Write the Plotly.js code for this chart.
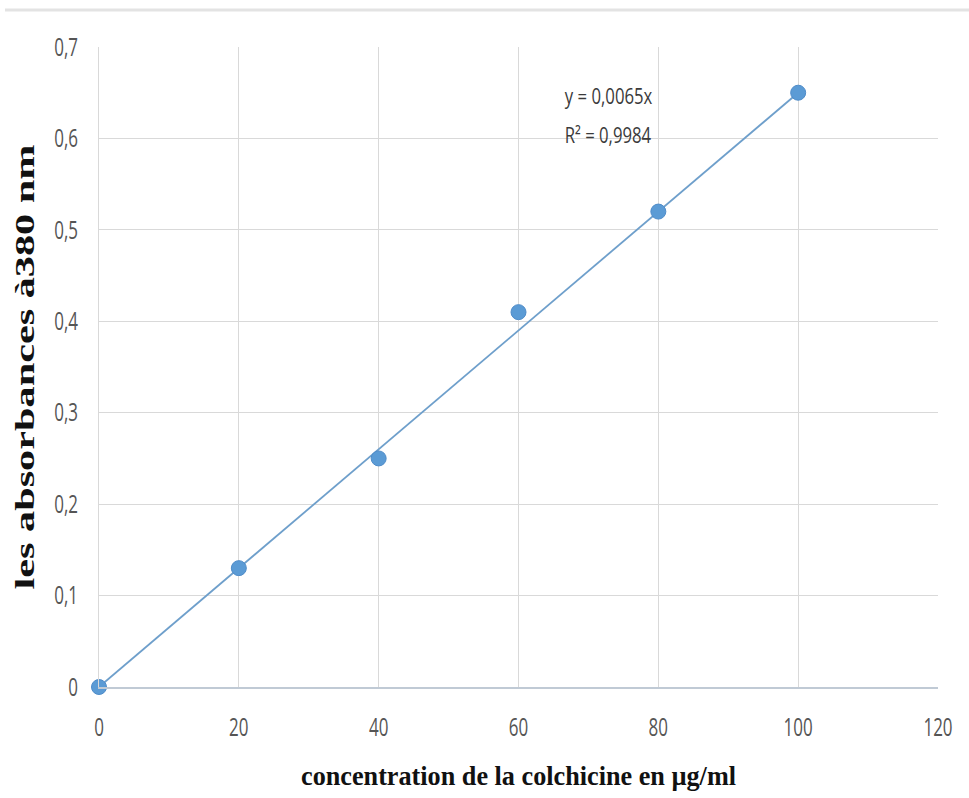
<!DOCTYPE html>
<html>
<head>
<meta charset="utf-8">
<script src="https://cdn.plot.ly/plotly-3.0.1.min.js"></script>
<style>html,body{margin:0;padding:0;background:#fff;}#chart{width:969px;height:798px;}</style>
</head>
<body>
<div id="chart"></div>
<script>
const concentration = [0, 20, 40, 60, 80, 100];
const absorbance = [0, 0.13, 0.25, 0.41, 0.52, 0.65];
const trendX = [0, 100];
const trendY = [0, 0.65];
const equationText = "y = 0,0065x";
const r2Text = "R² = 0,9984";
const xTitle = "concentration de la colchicine en µg/ml";
const yTitle = "les absorbances à380 nm";

const sansFamily = "'Open Sans', 'DejaVu Sans', sans-serif";
const tickFont = {family: sansFamily, size: 25, color: "#555555"};
const titleFont = {family: "'Liberation Serif', 'Times New Roman', serif", size: 28, color: "#111111"};

const traces = [
  {x: trendX, y: trendY, mode: "lines", type: "scatter",
   line: {color: "#6e9fcb", width: 1.8}, hoverinfo: "skip", cliponaxis: false},
  {x: concentration, y: absorbance, mode: "markers", type: "scatter", cliponaxis: false,
   marker: {color: "#5b9bd5", size: 15, line: {color: "#4f8cc9", width: 1}}}
];

const layout = {
  width: 969, height: 798,
  margin: {l: 99, r: 31, t: 47, b: 111},
  paper_bgcolor: "#ffffff", plot_bgcolor: "#ffffff",
  separators: ", ",
  showlegend: false,
  xaxis: {
    range: [0, 120], dtick: 20, tick0: 0,
    showgrid: true, gridcolor: "#d9d9d9", gridwidth: 1,
    zeroline: false, showline: true, linecolor: "#c0cad5", linewidth: 2,
    ticks: "", tickfont: tickFont, ticklabelstandoff: 17,
    title: {text: "<b>" + xTitle + "</b>", font: titleFont, standoff: 23}
  },
  yaxis: {
    range: [0, 0.7], dtick: 0.1, tick0: 0,
    showgrid: true, gridcolor: "#d9d9d9", gridwidth: 1,
    zeroline: false, showline: true, linecolor: "#d9d9d9", linewidth: 1,
    ticks: "", tickfont: tickFont, ticklabelstandoff: 15,
    title: {text: "<b>" + yTitle + "</b>", font: titleFont, standoff: 0}
  },
  annotations: [
    {x: 64.4, y: 0.647, xref: "x", yref: "y", xanchor: "left", yanchor: "middle",
     text: equationText, showarrow: false,
     font: {family: sansFamily, size: 22, color: "#3a3a3a"}},
    {x: 64.4, y: 0.605, xref: "x", yref: "y", xanchor: "left", yanchor: "middle",
     text: r2Text, showarrow: false,
     font: {family: sansFamily, size: 22, color: "#3a3a3a"}}
  ],
  shapes: [
    {type: "line", xref: "paper", yref: "paper",
     x0: -94/839, x1: 1 + 31/839, y0: 1 + 37/640, y1: 1 + 37/640,
     line: {color: "#e3e3e3", width: 3}}
  ]
};

function squeeze(selector, factor, fixedLength) {
  document.querySelectorAll(selector).forEach(function (t) {
    const len = fixedLength || t.getComputedTextLength() * factor;
    t.setAttribute("textLength", len);
    t.setAttribute("lengthAdjust", "spacingAndGlyphs");
  });
}

Plotly.newPlot("chart", traces, layout, {displayModeBar: false, staticPlot: true}).then(function () {
  squeeze(".xtick text", 0.68);
  squeeze(".ytick text", 0.68);
  squeeze(".annotation-text-g text", 0.76);
  squeeze("text.xtitle", 1, 435);
  squeeze("text.ytitle", 1, 445);
});
</script>
</body>
</html>
